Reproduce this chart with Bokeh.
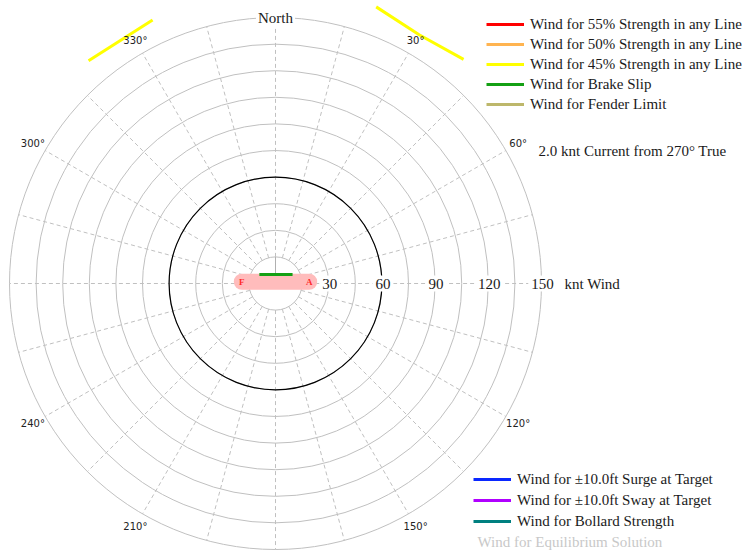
import math

from bokeh.core.properties import value
from bokeh.embed import file_html
from bokeh.models import Label, Legend, LegendItem, Range1d
from bokeh.plotting import figure
from bokeh.resources import INLINE

NaN = float("nan")

# ---- polar grid: wind speed rings (knots) and bearings (degrees true) ----
ring_kn = [15, 30, 45, 60, 75, 90, 105, 120, 135, 150]
speed_labels = [30, 60, 90, 120, 150]
spoke_deg = list(range(0, 360, 15))
bearing_deg = [30, 60, 120, 150, 210, 240, 300, 330]
bearing_text = ["30°", "60°", "120°", "150°", "210°", "240°", "300°", "330°"]

# ---- limiting wind curves: bearing (deg) and wind speed (knots) ----
# a single NaN marks a curve with no solution inside the chart
strength55_deg, strength55_kn = [NaN], [NaN]
strength50_deg, strength50_kn = [NaN], [NaN]
strength45_deg = [320, 335, NaN, 20, 30, 40]
strength45_kn = [164, 164, NaN, 166, 162, 165]
brake_deg = [299, 62]
brake_kn = [10.4, 10.9]
fender_deg, fender_kn = [NaN], [NaN]
surge_deg, surge_kn = [NaN], [NaN]
sway_deg, sway_kn = [NaN], [NaN]
bollard_deg, bollard_kn = [NaN], [NaN]
equilibrium_kn = 60

SERIF = value("Liberation Serif")
SANS = value("DejaVu Sans")


def to_xy(deg, kn):
    xs, ys = [], []
    for d, k in zip(deg, kn):
        if math.isnan(d) or math.isnan(k):
            xs.append(NaN)
            ys.append(NaN)
        else:
            a = math.radians(d)
            xs.append(k * math.sin(a))
            ys.append(k * math.cos(a))
    return xs, ys


W, H = 744, 552
cx, cy = 275, 283                 # pixel position of the polar origin
s = 266 / 150                     # pixels per knot

p = figure(
    width=W, height=H,
    x_range=Range1d(-cx / s, (W - cx) / s),
    y_range=Range1d(-(H - cy) / s, cy / s),
    output_backend="svg", toolbar_location=None,
    x_axis_type=None, y_axis_type=None,
    min_border=0, outline_line_color=None,
)
p.background_fill_color = "white"
p.border_fill_color = "white"

# rings
p.circle(x=[0] * len(ring_kn), y=[0] * len(ring_kn), radius=ring_kn,
         fill_color=None, line_color="#c0c0c0", line_width=1)

# dashed bearing spokes
sx, sy = [], []
for d in spoke_deg:
    xx, yy = to_xy([d, d], [ring_kn[0], ring_kn[-1]])
    sx.append(xx)
    sy.append(yy)
p.multi_line(xs=sx, ys=sy, line_color="#c0c0c0", line_dash="4 3", line_width=1)

# solid north marker inside the first ring
nx, ny = to_xy([0, 0], [0, ring_kn[0]])
p.line(nx, ny, line_color="#b0b0b0", line_width=1)

# equilibrium wind circle
p.circle(x=[0], y=[0], radius=[equilibrium_kn], fill_color=None,
         line_color="black", line_width=1.2)

# vessel outline with fore / aft marks
p.line([-19, 19], [1, 1], line_width=16, line_cap="round", line_color="#ffbcbc")
p.text(x=[-19, 19], y=[1, 1], text=["F", "A"], text_font=SERIF,
       text_font_size="9px", text_font_style="bold", text_color="#ff2a2a",
       text_align="center", text_baseline="middle")

# limiting curves
series = [
    ("Wind for 55% Strength in any Line", strength55_deg, strength55_kn, "#ff0000"),
    ("Wind for 50% Strength in any Line", strength50_deg, strength50_kn, "#ffb450"),
    ("Wind for 45% Strength in any Line", strength45_deg, strength45_kn, "#ffff00"),
    ("Wind for Brake Slip", brake_deg, brake_kn, "#14a014"),
    ("Wind for Fender Limit", fender_deg, fender_kn, "#bdb76b"),
    ("Wind for \u00b110.0ft Surge at Target", surge_deg, surge_kn, "#0a28ff"),
    ("Wind for \u00b110.0ft Sway at Target", sway_deg, sway_kn, "#b000ff"),
    ("Wind for Bollard Strength", bollard_deg, bollard_kn, "#008080"),
]
items = []
for label, dg, kn, col in series:
    xx, yy = to_xy(dg, kn)
    r = p.line(xx, yy, line_color=col, line_width=3)
    items.append(LegendItem(label=label, renderers=[r]))

# speed labels along the east spoke
p.text(x=speed_labels, y=[0] * len(speed_labels),
       text=[str(v) for v in speed_labels], x_offset=1,
       text_font=SERIF, text_font_size="15px", text_color="#1a1a1a",
       text_align="center", text_baseline="middle",
       background_fill_color="white", padding=3)
p.text(x=[speed_labels[-1]], y=[0], text=["knt Wind"], x_offset=23,
       text_font=SERIF, text_font_size="15px", text_color="#1a1a1a",
       text_align="left", text_baseline="middle")

# bearing labels
bx, by = to_xy(bearing_deg, [158] * len(bearing_deg))
p.text(x=bx, y=by, text=bearing_text, text_font=SANS, text_font_size="10px",
       text_color="#222222", text_align="center", text_baseline="middle")
p.text(x=[0], y=[ring_kn[-1]], text=["North"], text_font=SERIF,
       text_font_size="15px", text_color="#1a1a1a", text_align="center",
       text_baseline="middle", background_fill_color="white", padding=2)


def make_legend(its, loc, spacing):
    lg = Legend(items=its, location=loc, spacing=spacing, padding=0, margin=0,
                glyph_width=38, glyph_height=20, label_height=20,
                label_standoff=6, label_text_font="Liberation Serif",
                label_text_font_size="15px", label_text_color="#1a1a1a",
                background_fill_alpha=0, border_line_color=None)
    return lg


p.add_layout(make_legend(items[:5], (486, H - 114), 0))
p.add_layout(make_legend(items[5:], (473, H - 531), 1))

p.add_layout(Label(x=538, y=H - 150, x_units="screen", y_units="screen",
                   text="2.0 knt Current from 270° True", text_font="Liberation Serif",
                   text_font_size="15px", text_color="#1a1a1a", text_baseline="middle"))
p.add_layout(Label(x=477, y=H - 541, x_units="screen", y_units="screen",
                   text="Wind for Equilibrium Solution", text_font="Liberation Serif",
                   text_font_size="15px", text_color="#c8c8c8", text_baseline="middle"))

open("out.html", "w").write(file_html(p, INLINE))
